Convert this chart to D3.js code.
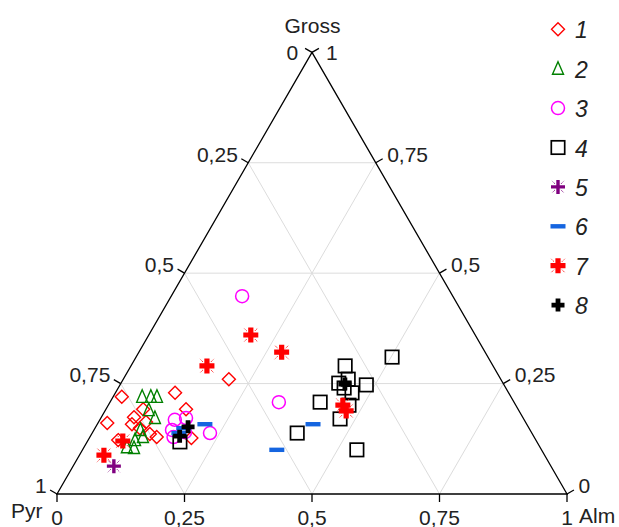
<!DOCTYPE html>
<html><head><meta charset="utf-8">
<script src="https://cdn.jsdelivr.net/npm/d3@7"></script>
<style>body{margin:0;background:#fff}svg{display:block}</style>
</head><body>
<svg id="c" width="619" height="527"></svg>
<script>
// ---- data (ternary fractions: Alm, Gross; Pyr = 1 - Alm - Gross) ----
const tickValues = [0, 0.25, 0.5, 0.75, 1];
const tickLabels = ["0", "0,25", "0,5", "0,75", "1"];
const axisNames = ["Gross", "Pyr", "Alm"];
const seriesNames = ["1", "2", "3", "4", "5", "6", "7", "8"];

const s1Alm   = [0.017, 0.117, 0.207, 0.018, 0.064, 0.073, 0.068, 0.093, 0.114, 0.059, 0.131, 0.157, 0.200, 0.088];
const s1Gross = [0.220, 0.229, 0.260, 0.161, 0.174, 0.192, 0.158, 0.163, 0.136, 0.122, 0.129, 0.192, 0.127, 0.149];

const s2Alm   = [0.057, 0.074, 0.086, 0.085, 0.106, 0.091, 0.104, 0.092, 0.084, 0.099];
const s2Gross = [0.220, 0.220, 0.220, 0.190, 0.172, 0.145, 0.129, 0.122, 0.106, 0.104];

const s3Alm   = [0.139, 0.331, 0.231, 0.147, 0.167, 0.153, 0.164, 0.181];
const s3Gross = [0.448, 0.208, 0.138, 0.168, 0.172, 0.145, 0.129, 0.140];

const s4Alm   = [0.502, 0.420, 0.441, 0.427, 0.443, 0.483, 0.464, 0.412, 0.472, 0.470, 0.402, 0.538, 0.182];
const s4Gross = [0.310, 0.290, 0.260, 0.251, 0.240, 0.247, 0.229, 0.208, 0.201, 0.170, 0.138, 0.100, 0.118];

const s5Alm   = [0.080];
const s5Gross = [0.063];

const s6Alm   = [0.211, 0.174, 0.170, 0.423, 0.381];
const s6Gross = [0.158, 0.149, 0.138, 0.158, 0.100];

const s7Alm   = [0.200, 0.280, 0.149, 0.048, 0.069, 0.460, 0.473];
const s7Gross = [0.360, 0.321, 0.290, 0.088, 0.120, 0.201, 0.188];

const s8Alm   = [0.440, 0.181, 0.175];
const s8Gross = [0.249, 0.152, 0.131];

const seriesAlm = [s1Alm, s2Alm, s3Alm, s4Alm, s5Alm, s6Alm, s7Alm, s8Alm];
const seriesGross = [s1Gross, s2Gross, s3Gross, s4Gross, s5Gross, s6Gross, s7Gross, s8Gross];

// ---- layout ----
const svg = d3.select("#c");
const FONT = "'Liberation Sans', Arial, sans-serif";
const side = 510;
const x = d3.scaleLinear().domain([0, 1]).range([57, 57 + side]);
const y = d3.scaleLinear().domain([0, 1]).range([494, 494 - side * Math.sqrt(3) / 2]);
const proj = (a, g) => [x(a + g / 2), y(g)];
const C30 = Math.cos(Math.PI / 6), S30 = 0.5, TL = 8;

// grid
const grid = svg.append("g").attr("stroke", "#dcdcdc").attr("stroke-width", 1).attr("fill", "none");
[0.25, 0.5, 0.75].forEach(v => {
  const lines = [
    [proj(0, v), proj(1 - v, v)],       // Gross const
    [proj(v, 0), proj(v, 1 - v)],       // Alm const
    [proj(1 - v, 0), proj(0, 1 - v)]    // Pyr const
  ];
  lines.forEach(l => grid.append("line")
    .attr("x1", l[0][0]).attr("y1", l[0][1]).attr("x2", l[1][0]).attr("y2", l[1][1]));
});

// frame
const A = proj(0, 1), P = proj(0, 0), M = proj(1, 0);
svg.append("path")
  .attr("d", d3.line()([P, M, A]) + "Z")
  .attr("fill", "none").attr("stroke", "#000").attr("stroke-width", 1.3);

const axg = svg.append("g").attr("stroke", "#000").attr("stroke-width", 1.3);
const txt = svg.append("g").attr("font-family", FONT).attr("font-size", 21).attr("fill", "#222");

tickValues.forEach((v, i) => {
  // bottom: Alm
  const b = proj(v, 0);
  axg.append("line").attr("x1", b[0]).attr("y1", b[1]).attr("x2", b[0]).attr("y2", b[1] + TL);
  txt.append("text").attr("x", b[0]).attr("y", 524.5).attr("text-anchor", "middle").text(tickLabels[i]);
  // left: Pyr
  const l = proj(0, 1 - v);
  const le = [l[0] - TL * C30, l[1] - TL * S30];
  axg.append("line").attr("x1", l[0]).attr("y1", l[1]).attr("x2", le[0]).attr("y2", le[1]);
  const apexL = v === 0;
  txt.append("text").attr("x", le[0] - (apexL ? 7 : 3.5)).attr("y", apexL ? l[1] + 7.5 : le[1] + 2.8)
    .attr("text-anchor", "end").text(tickLabels[i]);
  // right: Gross
  const r = proj(1 - v, v);
  const re = [r[0] + TL * C30, r[1] - TL * S30];
  axg.append("line").attr("x1", r[0]).attr("y1", r[1]).attr("x2", re[0]).attr("y2", re[1]);
  const apexR = v === 1;
  txt.append("text").attr("x", re[0] + (apexR ? 7 : 4.5)).attr("y", apexR ? r[1] + 7.5 : re[1] + 2.8)
    .attr("text-anchor", "start").text(tickLabels[i]);
});

txt.append("text").attr("x", A[0] + 0.5).attr("y", 32.5).attr("text-anchor", "middle").text(axisNames[0]);
txt.append("text").attr("x", 11).attr("y", 518).attr("text-anchor", "start").text(axisNames[1]);
txt.append("text").attr("x", 579).attr("y", 522.5).attr("text-anchor", "start").text(axisNames[2]);

// ---- markers ----
function crossPath(s, t) { // plus of half-size s, half-thickness t
  return `M${-t},${-s}H${t}V${-t}H${s}V${t}H${t}V${s}H${-t}V${t}H${-s}V${-t}H${-t}Z`;
}
function drawMarker(g, k) {
  switch (k) {
    case 0:
      g.append("path").attr("d", "M0,-6.5L6.5,0L0,6.5L-6.5,0Z").attr("fill", "none").attr("stroke", "#ff0000").attr("stroke-width", 1.4); break;
    case 1:
      g.append("path").attr("d", "M0,-7L5.5,5.5L-5.5,5.5Z").attr("fill", "none").attr("stroke", "#008000").attr("stroke-width", 1.4); break;
    case 2:
      g.append("circle").attr("r", 6.5).attr("fill", "none").attr("stroke", "#ff00ff").attr("stroke-width", 1.5); break;
    case 3:
      g.append("rect").attr("x", -6.7).attr("y", -6.7).attr("width", 13.4).attr("height", 13.4).attr("fill", "none").attr("stroke", "#000").attr("stroke-width", 1.7); break;
    case 4: {
      g.append("path").attr("d", crossPath(7, 1.7)).attr("fill", "#800080");
      const d = g.append("g").attr("stroke", "#800080").attr("stroke-width", 0.9);
      [[1, 1], [1, -1], [-1, 1], [-1, -1]].forEach(([sx, sy]) =>
        d.append("line").attr("x1", sx * 3).attr("y1", sy * 3).attr("x2", sx * 6).attr("y2", sy * 6).attr("stroke-dasharray", "1.2,0.8"));
      break;
    }
    case 5:
      g.append("rect").attr("x", -7.5).attr("y", -2.2).attr("width", 15).attr("height", 4.4).attr("fill", "#1565e0"); break;
    case 6: {
      g.append("path").attr("d", crossPath(7.5, 2.6)).attr("fill", "#ff0000");
      const d = g.append("g").attr("stroke", "#ff0000").attr("stroke-width", 0.9);
      [[1, 1], [1, -1], [-1, 1], [-1, -1]].forEach(([sx, sy]) =>
        d.append("line").attr("x1", sx * 4).attr("y1", sy * 4).attr("x2", sx * 7).attr("y2", sy * 7).attr("stroke-dasharray", "1.2,0.8"));
      break;
    }
    case 7:
      g.append("path").attr("d", crossPath(6.5, 2.4)).attr("fill", "#000"); break;
  }
}

const marks = svg.append("g");
seriesAlm.forEach((arr, k) => {
  arr.forEach((a, j) => {
    const p = proj(a, seriesGross[k][j]);
    drawMarker(marks.append("g").attr("transform", `translate(${p[0]},${p[1]})`), k);
  });
});

// ---- legend ----
const leg = svg.append("g");
seriesNames.forEach((n, k) => {
  const cy = 29.3 + k * 39.4;
  drawMarker(leg.append("g").attr("transform", `translate(558,${cy})`), k);
  leg.append("text").attr("x", 575).attr("y", cy + 9)
    .attr("font-family", FONT).attr("font-size", 23).attr("font-style", "italic").attr("fill", "#222").text(n);
});
</script>
</body></html>
